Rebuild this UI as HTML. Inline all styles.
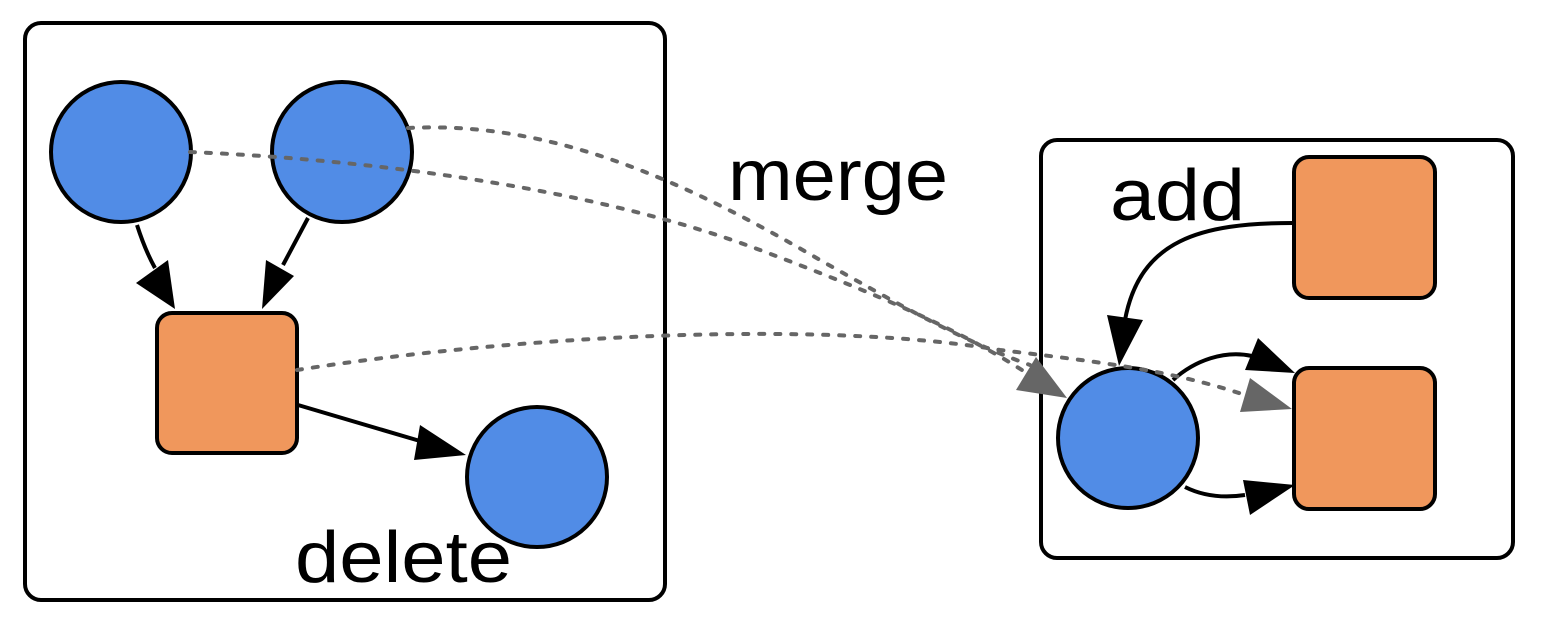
<!DOCTYPE html>
<html><head><meta charset="utf-8"><style>body{margin:0;background:#fff}svg{display:block}</style></head>
<body>
<svg width="1546" height="626" viewBox="0 0 1546 626" xmlns="http://www.w3.org/2000/svg">
<rect width="1546" height="626" fill="#fff"/>
<rect x="25" y="23" width="640" height="577" rx="16" fill="#fff" stroke="#000" stroke-width="4"/>
<rect x="1041" y="140" width="472" height="418" rx="16" fill="#fff" stroke="#000" stroke-width="4"/>
<g font-family="Liberation Sans, sans-serif" font-size="72" fill="#000">
<text x="728" y="200" textLength="220" lengthAdjust="spacingAndGlyphs">merge</text>
<text x="1110" y="220" textLength="135" lengthAdjust="spacingAndGlyphs">add</text>
<text x="295" y="582" textLength="217" lengthAdjust="spacingAndGlyphs">delete</text>
</g>
<g stroke="#000" stroke-width="4" fill="none">
<path d="M137,225 Q145,250 155,268"/>
<path d="M308,218 L283,265"/>
<path d="M298,405 L420,441"/>
<path d="M1293,223 C1200,223 1140,240 1125,320"/>
<path d="M1173,380 C1195,360 1225,350 1252,356"/>
<path d="M1185,487 C1205,497 1225,498 1245,495"/>
</g>
<g fill="#000">
<polygon points="175,309 136,283 168,260"/>
<polygon points="262,309 266,260 294,276"/>
<polygon points="466,455 420,425 414,460"/>
<polygon points="1119,366 1107,315 1143,320"/>
<polygon points="1295,373 1245,370 1258,338"/>
<polygon points="1295,485 1250,515 1243,480"/>
</g>
<circle cx="121" cy="152" r="70" fill="#518ce6" stroke="#000" stroke-width="4"/>
<circle cx="342" cy="152" r="70" fill="#518ce6" stroke="#000" stroke-width="4"/>
<circle cx="537" cy="477" r="70" fill="#518ce6" stroke="#000" stroke-width="4"/>
<rect x="157" y="313" width="140" height="140" rx="15" fill="#f0975c" stroke="#000" stroke-width="4"/>
<rect x="1294" y="157" width="141" height="141" rx="15" fill="#f0975c" stroke="#000" stroke-width="4"/>
<rect x="1294" y="368" width="141" height="141" rx="15" fill="#f0975c" stroke="#000" stroke-width="4"/>
<circle cx="1128" cy="438" r="70" fill="#518ce6" stroke="#000" stroke-width="4"/>
<g stroke="#666" stroke-width="4" fill="none" stroke-dasharray="5,11" stroke-linecap="round">
<path d="M190,152 C380,160 600,190 760,250 C880,295 960,330 1025,372"/>
<path d="M408,128 C560,120 700,190 820,260 C900,305 960,340 1030,365"/>
<path d="M297,370 C520,335 820,320 1000,350 C1100,362 1170,370 1245,395"/>
</g>
<g fill="#666">
<polygon points="1067,398 1016,390 1036,357"/>
<polygon points="1292,409 1240,412 1250,378"/>
</g>
</svg>
</body></html>
